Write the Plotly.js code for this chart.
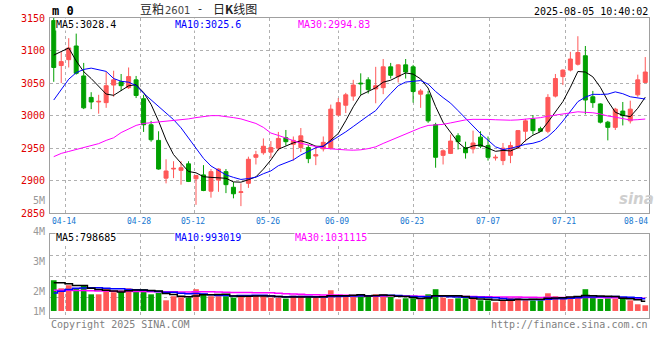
<!DOCTYPE html>
<html><head><meta charset="utf-8">
<script src="https://cdn.plot.ly/plotly-3.0.1.min.js"></script>
<style>html,body{margin:0;padding:0;background:#fff}#chart{width:660px;height:360px}</style>
</head><body><div id="chart"></div>
<script>
// ---- data ----
const dates = ['04-10','04-11',
 '04-14','04-15','04-16','04-17','04-18','04-21','04-22','04-23','04-24','04-25',
 '04-28','04-29','04-30','05-06','05-07','05-08','05-09',
 '05-12','05-13','05-14','05-15','05-16','05-19','05-20','05-21','05-22','05-23',
 '05-26','05-27','05-28','05-29','05-30','06-03','06-04','06-05','06-06',
 '06-09','06-10','06-11','06-12','06-13','06-16','06-17','06-18','06-19','06-20',
 '06-23','06-24','06-25','06-26','06-27','06-30','07-01','07-02','07-03','07-04',
 '07-07','07-08','07-09','07-10','07-11','07-14','07-15','07-16','07-17','07-18',
 '07-21','07-22','07-23','07-24','07-25','07-28','07-29','07-30','07-31','08-01',
 '08-04','08-05'];
const openP  = [3146,3077,3086,3107,3061,3028,3021,3020,3047,3052, 3043,3055,3026,2986,2962,2904,2918,2916,2926,2903,
                2909,2884,2901,2914,2890,2882,2896,2936,2943,2944, 2950,2966,2956,2951,2951,2938,2949,2950,3001,3016,
                3030,3050,3055,3041,3043,3075,3060,3078,3075,3033, 3032,2986,2939,2942,2969,2951,2949,2967,2954,2935,
                2931,2939,2951,2976,2995,2980,2976,3030,3060,3070, 3079,3092,3029,3018,2990,2982,3007,2992,3032,3051];
const highP  = [3152,3098,3119,3126,3081,3036,3032,3067,3069,3064, 3074,3061,3032,2992,2976,2933,2930,2930,2930,2909,
                2924,2918,2919,2918,2898,2896,2937,2946,2965,2961, 2975,2978,2968,2981,2955,2954,2968,3017,3027,3035,
                3055,3065,3059,3075,3087,3081,3079,3087,3078,3041, 3038,2989,2948,2971,2973,2960,2977,2976,2968,2940,
                2958,2960,2978,2995,3001,2983,3033,3064,3071,3098, 3122,3107,3038,3019,2992,3012,3021,3023,3063,3090];
const lowP   = [3052,3050,3074,3063,3010,3010,3003,3012,3029,3038, 3041,3027,2975,2960,2917,2896,2904,2894,2898,2863,
                2884,2874,2883,2881,2873,2861,2889,2925,2940,2935, 2946,2954,2931,2944,2927,2924,2945,2948,2999,3004,
                3023,3032,3034,3019,3033,3057,3051,3057,3020,3012, 2989,2920,2925,2941,2948,2934,2942,2950,2931,2931,
                2924,2927,2949,2960,2971,2975,2973,3028,3047,3068, 3077,3002,3012,2988,2962,2978,2985,2988,3029,3050];
const closeP = [3074,3083,3104,3065,3012,3021,3022,3046,3055,3046, 3060,3031,2986,2963,2918,2915,2919,2920,2899,2908,
                2885,2914,2918,2894,2880,2883,2933,2940,2953,2951, 2965,2960,2962,2969,2934,2940,2959,3010,3020,3032,
                3047,3049,3040,3046,3075,3062,3078,3067,3037,3038, 2992,2936,2946,2961,2960,2943,2958,2953,2936,2936,
                2950,2954,2977,2992,2977,2976,3028,3057,3070,3087, 3097,3024,3020,2990,2982,3010,3000,3010,3055,3067];
// volume (millions, as drawn)
const volume = [2.71,2.00,2.27,2.00,2.27,1.47,1.47,1.92,1.65,1.83, 2.00,1.83,1.92,1.47,1.59,0.94,1.30,1.21,1.18,1.92,
                1.53,1.30,1.30,1.30,1.18,1.36,1.36,1.36,1.30,1.18, 1.18,1.09,1.36,1.36,1.21,1.18,1.18,1.83,1.30,1.24,
                1.39,1.39,1.30,1.47,1.47,1.24,1.03,1.12,1.12,1.03, 1.47,1.92,1.18,1.06,1.12,1.12,1.09,0.94,0.94,0.77,
                0.94,1.18,1.18,0.94,0.94,0.94,1.56,1.30,1.09,1.24, 1.24,1.92,1.18,1.06,1.12,1.09,1.18,0.94,0.59,0.50];
// moving-average values before a full window exists
const ma5Head  = [3093,3099,3104,3084];
const ma10Head = [3024,3041,3056,3066,3071,3073,3070,3068,3057];
const ma30Head = [2937,2942,2945,2948,2950,2954,2957,2962,2966,2974,2980,2985,2988,2989,2990,2991,2992,2994,2995,2997,
                  2999,3000,3000,2999,2997,2995,2992,2988,2982];
const vma5Head  = [2.48,2.48,2.40,2.25];
const vma10Head = [1.59,1.75,1.90,2.00,2.03,2.04,2.04,2.00,1.95];
const vma30Head = [1.83,1.82,1.82,1.80,1.80,1.78,1.77,1.76,1.75,1.74,1.73,1.72,1.71,1.70,1.70,1.69,1.69,1.68,1.68,1.70,
                   1.70,1.69,1.67,1.65,1.64,1.63,1.62,1.61,1.61];
const tickLabels = ['04-14','04-28','05-12','05-26','06-09','06-23','07-07','07-21','08-04'];
const priceTicks = [2850,2900,2950,3000,3050,3100,3150];
const volLabels = ['5M','4M','3M','2M','1M'];
const legendPrice = ['MA5:3028.4','MA10:3025.6','MA30:2994.83'];
const legendVol = ['MA5:798685','MA10:993019','MA30:1031115'];
const titleParts = ['豆粕','2601','-','日K线图'];

// ---- build ----
const RED = '#ff5858', GREEN = '#00a000';
const MA_COL = ['#000000','#0000ff','#ff00ff'];
const N = dates.length;
const xi = dates.map((d,i)=>i);
function ma(arr, n, head){
  return arr.map((v,i)=>{
    if(i < n-1) return head[i];
    let s=0; for(let k=i-n+1;k<=i;k++) s+=arr[k];
    return s/n;
  });
}
const pMA = [ma(closeP,5,ma5Head), ma(closeP,10,ma10Head), ma(closeP,30,ma30Head)];
const vMA = [ma(volume,5,vma5Head), ma(volume,10,vma10Head), ma(volume,30,vma30Head)];
const barCol = closeP.map((c,i)=> c>=openP[i] ? RED : GREEN);

const tickIdx = tickLabels.map(d=>dates.indexOf(d));
const gridPos = tickIdx.map(i=> i*N/(N-1) - 0.5);
const gridShown = gridPos.slice(0,-1);
const labelPos = gridPos.map(p=> Math.min(Math.max(p-0.2, 1.2), N-0.5-1.7));

const traces = [];
traces.push({type:'candlestick', x:xi, open:openP, high:highP, low:lowP, close:closeP,
  xaxis:'x', yaxis:'y', whiskerwidth:0, hoverinfo:'skip', showlegend:false,
  increasing:{line:{color:RED,width:1}, fillcolor:RED},
  decreasing:{line:{color:GREEN,width:1}, fillcolor:GREEN}});
pMA.forEach((m,k)=>traces.push({type:'scatter', mode:'lines', x:xi, y:m, xaxis:'x', yaxis:'y',
  line:{color:MA_COL[k], width:1}, hoverinfo:'skip', showlegend:false}));
traces.push({type:'bar', x:xi, y:volume, xaxis:'x2', yaxis:'y2', marker:{color:barCol, line:{width:0}},
  hoverinfo:'skip', showlegend:false});
[2,1,0].forEach(k=>traces.push({type:'scatter', mode:'lines', x:xi, y:vMA[k], xaxis:'x2', yaxis:'y2',
  line:{color:MA_COL[k], width:1.5, shape:'hvh'}, hoverinfo:'skip', showlegend:false}));

const GRID = '#b0b0b0', FRAME = '#a0a0a0';
const MONO = 'DejaVu Sans Mono';
const W = 660, H = 360, ML = 50, MR = 11, MT = 18, MB = 42;
const PW = W-ML-MR, PH = H-MT-MB;
const px = x => (x-ML)/PW, py = y => 1-(y-MT)/PH;

const ann = [];
function txt(text, xp, yp, color, size, anchor, extra, family){
  ann.push(Object.assign({text:text, x:px(xp), y:py(yp), xref:'paper', yref:'paper', showarrow:false,
    xanchor:anchor||'left', yanchor:'middle', font:{family:family||MONO, size:size||10, color:color}}, extra||{}));
}
txt('<b>m 0</b>', 50, 11.5, '#000', 12);
// title pieces
txt(titleParts[0], 139, 9, '#222', 12, 'left', {borderpad:0}, 'Noto Sans CJK SC');
txt(titleParts[1], 164, 10, '#444', 10, 'left', {borderpad:0}, 'DejaVu Sans');
txt(titleParts[2], 200, 9, '#222', 11, 'center', {borderpad:0}, 'DejaVu Sans');
txt('日<b>K</b>线图', 212, 9, '#222', 12, 'left', {borderpad:0}, 'Noto Sans CJK SC');
txt('2025-08-05 10:40:02', 650, 12, '#000', 10, 'right');
const legX = [55,174,297];
legendPrice.forEach((t,k)=>txt(t, legX[k], 24, MA_COL[k], 10, 'left', {bgcolor:'#fff', borderpad:0}));
const legXv = [55,174,294];
legendVol.forEach((t,k)=>txt(t, legXv[k], 237.5, MA_COL[k], 10, 'left', {bgcolor:'#fff', borderpad:0}));
const volLabY = [200.7,231,261,291,311];
volLabels.forEach((t,k)=>txt(t, 47, volLabY[k], '#999', 10, 'right'));
txt('Copyright 2025 SINA.COM', 49, 324, '#808080', 10, 'left');
txt('http://finance.sina.com.cn', 650, 324, '#808080', 10, 'right');
tickLabels.forEach((t,k)=>ann.push({text:t, x:labelPos[k], xref:'x', y:py(221.5), yref:'paper', showarrow:false,
  xanchor:'center', yanchor:'middle', font:{family:MONO, size:8, color:'#1576d0'}}));
ann.push({text:'<b><i>sina</i></b>', x:px(636), y:py(199), xref:'paper', yref:'paper', showarrow:false,
  xanchor:'center', yanchor:'middle', font:{family:'DejaVu Sans', size:15, color:'#cfcfcf'}});

const vRange = [-0.62, 6.79];
const vq = [1,2,3].map(k=> vRange[0] + k*(vRange[1]-vRange[0])/4);

const axBase = {showline:true, mirror:true, linecolor:FRAME, linewidth:1, zeroline:false, ticks:'',
  showgrid:true, gridcolor:GRID, griddash:'dot', gridwidth:1, fixedrange:true};
const layout = {
  width:W, height:H, margin:{l:ML, r:MR, t:MT, b:MB, pad:0},
  paper_bgcolor:'#fff', plot_bgcolor:'#fff', showlegend:false, boxgap:0.24, bargap:0.24,
  xaxis: Object.assign({}, axBase, {domain:[0,1], anchor:'y', range:[-0.5, N-0.5], tickvals:gridShown,
    showticklabels:false, rangeslider:{visible:false}}),
  yaxis: Object.assign({}, axBase, {domain:[0.349,1], anchor:'x', range:[2850,3150], tickvals:priceTicks,
    tickfont:{family:MONO, size:10, color:'#e00000'}, ticklabelstandoff:2}),
  xaxis2: Object.assign({}, axBase, {domain:[0,1], anchor:'y2', range:[-0.5, N-0.5], tickvals:gridShown,
    showticklabels:false, rangeslider:{visible:false}}),
  yaxis2: Object.assign({}, axBase, {domain:[0,0.28], anchor:'x2', range:vRange, tickvals:vq, showticklabels:false}),
  annotations: ann
};
Plotly.newPlot('chart', traces, layout, {staticPlot:true, displayModeBar:false});
</script></body></html>
